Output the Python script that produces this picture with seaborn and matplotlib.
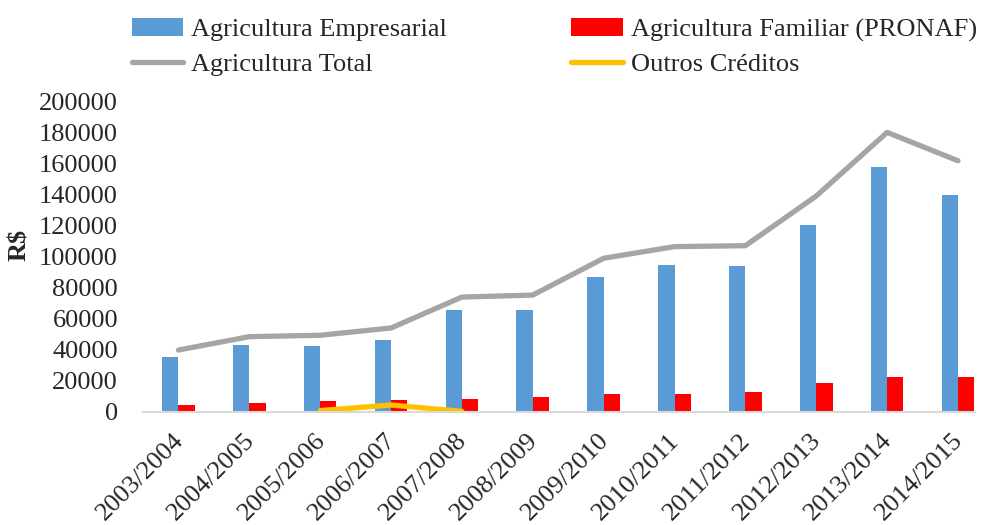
import numpy as np
import pandas as pd
import matplotlib
matplotlib.use("Agg")
import matplotlib.pyplot as plt
import matplotlib.transforms as mtransforms
from matplotlib.patches import Patch
from matplotlib.lines import Line2D
import seaborn as sns

# Crop years
safras = ["2003/2004", "2004/2005", "2005/2006", "2006/2007", "2007/2008", "2008/2009",
          "2009/2010", "2010/2011", "2011/2012", "2012/2013", "2013/2014", "2014/2015"]

# Rural credit (R$)
empresarial = [35100, 42600, 42200, 45900, 65600, 65400,
               86400, 94400, 93500, 120100, 157300, 139400]
familiar = [4200, 5500, 6800, 7400, 7900, 9300,
            11300, 11300, 12600, 18400, 22000, 22200]
total = [39600, 48200, 49100, 53800, 73700, 75000,
         98700, 106200, 106800, 138800, 179800, 161500]
outros = [np.nan, np.nan, 600, 4200, 100, np.nan,
          np.nan, np.nan, np.nan, np.nan, np.nan, np.nan]

yticks = list(range(0, 200001, 20000))

lbl_emp = "Agricultura Empresarial"
lbl_fam = "Agricultura Familiar (PRONAF)"
lbl_tot = "Agricultura Total"
lbl_out = "Outros Créditos"

c_emp, c_fam, c_tot, c_out = "#5B9BD5", "#FF0000", "#A5A5A5", "#FFC000"

sns.set_theme(style="white")
plt.rcParams["font.family"] = ["Liberation Serif", "DejaVu Serif"]
FS = 19

bars = pd.DataFrame({
    "safra": safras * 2,
    "valor": empresarial + familiar,
    "serie": [lbl_emp] * len(safras) + [lbl_fam] * len(safras),
})
pos = np.arange(len(safras))
lines_tot = pd.DataFrame({"x": pos, "valor": total})
lines_out = pd.DataFrame({"x": pos, "valor": outros}).dropna()

fig = plt.figure(figsize=(9.83, 5.25), dpi=100)
ax = fig.add_axes([143 / 983, 1 - 411.5 / 525, 832 / 983, 310.5 / 525])

sns.barplot(data=bars, x="safra", y="valor", hue="serie", order=safras,
            hue_order=[lbl_emp, lbl_fam], palette=[c_emp, c_fam],
            width=0.46, gap=0, linewidth=0, saturation=1, ax=ax, legend=False)
sns.lineplot(data=lines_tot, x="x", y="valor", color=c_tot, linewidth=3.8,
             solid_capstyle="round", solid_joinstyle="round", ax=ax, legend=False)
sns.lineplot(data=lines_out, x="x", y="valor", color=c_out, linewidth=3.8,
             solid_capstyle="round", solid_joinstyle="round", ax=ax, legend=False)

ax.set_xlim(-0.5, len(safras) - 1 + 0.24)
ax.set_ylim(0, 200000)
ax.set_yticks(yticks)
ax.set_yticklabels([str(v) for v in yticks], fontsize=FS)
ax.set_xticks(pos)
ax.set_xticklabels(safras, fontsize=FS, rotation=45, ha="right", va="top",
                   rotation_mode="anchor")
ax.tick_params(axis="y", length=0, pad=18)
ax.tick_params(axis="x", length=0, pad=13)
shift = mtransforms.ScaledTranslation(-6 / 100, 0, fig.dpi_scale_trans)
for t in ax.get_xticklabels():
    t.set_transform(t.get_transform() + shift)

ax.set_xlabel("")
ax.set_ylabel("R$", fontsize=FS, fontweight="bold")
ax.yaxis.set_label_coords(-0.134, 0.536)

for s in ["top", "right", "left"]:
    ax.spines[s].set_visible(False)
ax.spines["bottom"].set_color("#D9D9D9")
ax.spines["bottom"].set_linewidth(1.5)
ax.grid(False)

handles = [
    Patch(facecolor=c_emp, edgecolor="none", label=lbl_emp),
    Line2D([0], [0], color=c_tot, linewidth=3.8, solid_capstyle="round", label=lbl_tot),
    Patch(facecolor=c_fam, edgecolor="none", label=lbl_fam),
    Line2D([0], [0], color=c_out, linewidth=3.8, solid_capstyle="round", label=lbl_out),
]
fig.legend(handles=handles, ncol=2, loc="upper left",
           bbox_to_anchor=(132 / 983, 1 - 18 / 525), frameon=False, fontsize=FS,
           handlelength=1.95, handletextpad=0.3, columnspacing=4.7,
           labelspacing=0.42, borderaxespad=0, borderpad=0)

fig.savefig("out.png", dpi=100)
